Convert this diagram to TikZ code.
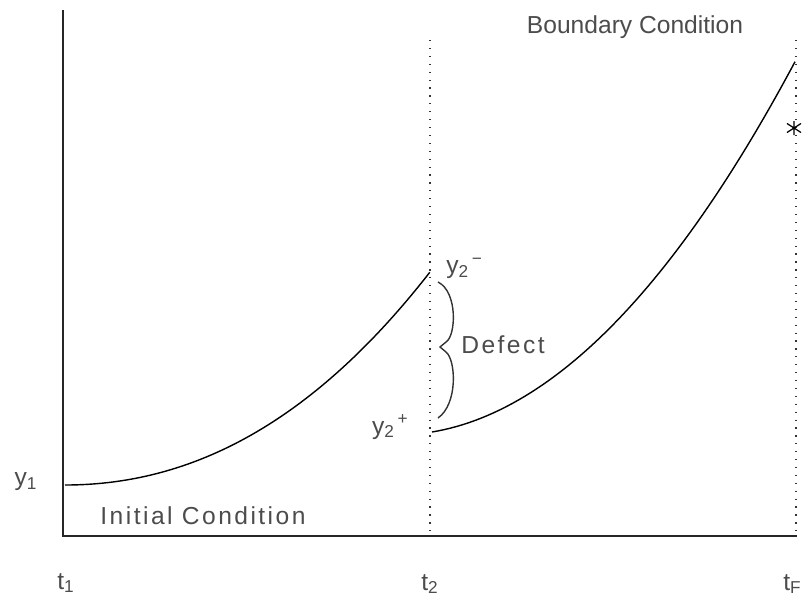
\documentclass[tikz,border=0pt]{standalone}
\usepackage{fontspec}
\setmainfont{Liberation Sans}
\usepackage{tikz}
\usetikzlibrary{positioning}

\begin{document}
\begin{tikzpicture}[
    x=0.02cm, y=-0.02cm,
    node distance=0.2cm,
    lbl/.style={inner sep=0pt, font=\fontsize{14}{16}\selectfont, text=black!70},
    wide/.style={lbl, font=\fontsize{14}{16}\selectfont\addfontfeature{LetterSpace=10}},
    axis/.style={line width=0.8pt, black!85},
    guide/.style={line width=0.8pt, dash pattern=on 0.7pt off 3.8pt, black!80},
    curve/.style={line width=0.8pt},
  ]
    \useasboundingbox (0,0) rectangle (804,602);

    % frame
    \coordinate (top) at (63,10);
    \coordinate (orig) at (63,536);
    \coordinate (axend) at (797,536);
    \draw[axis] (top) -- (orig) -- (axend);

    % dotted lines at t2 and tF
    \coordinate (g2top) at (430,40);
    \coordinate (g2bot) at (430,536);
    \coordinate (gFtop) at (796,40);
    \coordinate (gFbot) at (796,536);
    \draw[guide] (g2top) -- (g2bot);
    \draw[guide] (gFtop) -- (gFbot);

    % first segment
    \coordinate (c1start) at (65,485);
    \coordinate (c1end) at (430,272);
    \draw[curve] plot[domain=0:1, samples=60] ({65+365*\x},{485-213*(0.8*\x*\x+0.2*\x*\x*\x)});

    % second segment
    \coordinate (c2start) at (432,432);
    \coordinate (c2end) at (795,62);
    \draw[curve] plot[domain=0:363, samples=60] ({432+\x},{432-0.167*\x-0.002348*\x*\x});

    % defect brace
    \coordinate (brtop) at (438,282);
    \coordinate (brtip) at (440,347);
    \coordinate (brbot) at (438,418);
    \draw[line width=0.8pt, black!80] (brtop) .. controls (458,292) and (456,336) .. (446,342)
      -- (brtip) -- (446,352) .. controls (456,360) and (458,404) .. (brbot);

    % target mark
    \coordinate (star) at (794,128);
    \draw[line width=0.7pt] (star) +(0,-7) -- +(0,7)
      (star) +(-7,-4.5) -- +(7,4.5)
      (star) +(-7,4.5) -- +(7,-4.5);

    % labels
    \node[lbl] (y1) at (26,482) {y\textsubscript{1}};
    \node[lbl] (t1) at (66,583) {t\textsubscript{1}};
    \node[lbl] (t2) at (430,584) {t\textsubscript{2}};
    \node[lbl, anchor=west] (tF) at (783,584) {t\textsubscript{F}};
    \node[lbl, anchor=west] (y2m) at (446,268) {y\textsubscript{2}\textsuperscript{\,−}};
    \node[lbl, anchor=east] (y2p) at (409,427) {y\textsubscript{2}\textsuperscript{\,+}};
    \node[wide] (defect) at (503,345) {Defect};
    \node[wide] (initial) at (203,516) {Initial Condition};
    \node[lbl] (boundary) at (635,27) {Boundary Condition};
  \end{tikzpicture}
\end{document}
